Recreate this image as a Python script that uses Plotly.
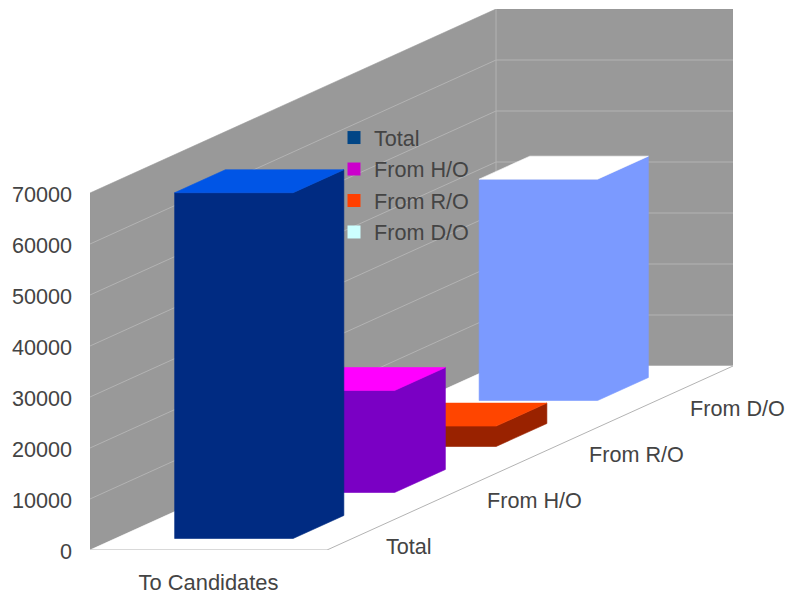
import plotly.graph_objects as go

categories = ["To Candidates"]
series_names = ["Total", "From H/O", "From R/O", "From D/O"]
series_values = [67800, 20000, 4000, 43400]
tick_values = [0, 10000, 20000, 30000, 40000, 50000, 60000, 70000]

legend_colors = ["#004586", "#cc00cc", "#ff3f00", "#ccffff"]
front_colors = ["#002b82", "#7a00c4", "#992200", "#7b9aff"]
top_colors = ["#0055e6", "#ff00ff", "#ff4500", "#ffffff"]

WALL = "#999999"
GRID = "#b3b3b3"
TEXT = "#444444"
FONT = dict(family="Liberation Sans", size=21.6, color=TEXT)

# Oblique projection: one series step in depth moves right and up
PX_PER_CAT = 237.0
PX_PER_UNIT = 357.0 / 70000
DX = 101.5 / PX_PER_CAT
DY = 46.0 / PX_PER_UNIT
N = len(series_names)
YMAX = tick_values[-1]


def proj(x, d, v):
    return x + d * DX, v + d * DY


def poly(points, color):
    xy = [proj(*p) for p in points]
    xs = [q[0] for q in xy] + [xy[0][0]]
    ys = [q[1] for q in xy] + [xy[0][1]]
    return go.Scatter(x=xs, y=ys, mode="lines", fill="toself", fillcolor=color,
                      line=dict(width=0.6, color=color), hoverinfo="skip", showlegend=False)


def line(points, color=GRID, width=1):
    xy = [proj(*p) for p in points]
    return go.Scatter(x=[q[0] for q in xy], y=[q[1] for q in xy], mode="lines",
                      line=dict(color=color, width=width), hoverinfo="skip", showlegend=False)


fig = go.Figure()

# Walls and floor
fig.add_trace(poly([(0, 0, 0), (0, N, 0), (0, N, YMAX), (0, 0, YMAX)], WALL))
fig.add_trace(poly([(0, N, 0), (1, N, 0), (1, N, YMAX), (0, N, YMAX)], WALL))
fig.add_trace(poly([(0, 0, 0), (1, 0, 0), (1, N, 0), (0, N, 0)], "#ffffff"))

# Gridlines
for t in tick_values[1:-1]:
    fig.add_trace(line([(0, 0, t), (0, N, t), (1, N, t)]))
fig.add_trace(line([(0, N, 0), (0, N, YMAX)]))
fig.add_trace(line([(0, 0, 0), (1, 0, 0), (1, N, 0)]))

# Bars, back to front: front and side share one outline, so no seam shows
for i in reversed(range(N)):
    v = series_values[i]
    x0, x1 = 0.25, 0.75
    d0, d1 = i + 0.25, i + 0.75
    fig.add_trace(poly([(x0, d0, 0), (x1, d0, 0), (x1, d1, 0), (x1, d1, v), (x1, d0, v), (x0, d0, v)],
                       front_colors[i]))
    fig.add_trace(poly([(x0, d0, v), (x1, d0, v), (x1, d1, v), (x0, d1, v)], top_colors[i]))

# Legend entries
for i, name in enumerate(series_names):
    fig.add_trace(go.Scatter(x=[None], y=[None], mode="markers", name=name, legendgroup=name,
                             marker=dict(symbol="square", size=13, color=legend_colors[i])))

# Series labels along the floor's right edge
for i, name in enumerate(series_names):
    ax, ay = proj(1, i + 0.5, 0)
    fig.add_annotation(x=ax, y=ay, text=name, showarrow=False, xanchor="left", yanchor="middle",
                       xshift=6, yshift=-19, font=FONT)

xmax = 643.0 / PX_PER_CAT
ymax = 541.0 / PX_PER_UNIT
fig.update_layout(
    width=789, height=594,
    margin=dict(l=90, r=56, t=9, b=44, autoexpand=False),
    paper_bgcolor="#ffffff", plot_bgcolor="#ffffff",
    font=FONT,
    showlegend=True,
    legend=dict(x=(334 - 90) / 643.0, y=1 - (117 - 9) / 541.0, xanchor="left", yanchor="top",
                bgcolor="rgba(0,0,0,0)", tracegroupgap=0.4, font=FONT, itemclick=False,
                itemdoubleclick=False, itemwidth=30),
    xaxis=dict(range=[0, xmax], tickmode="array", tickvals=[0.5], ticktext=categories,
               showgrid=False, zeroline=False, showline=False, ticks="", ticklabelstandoff=17,
               tickfont=dict(size=21.9), fixedrange=True, automargin=False),
    yaxis=dict(range=[0, ymax], tickmode="array", tickvals=tick_values,
               ticktext=[str(t) for t in tick_values],
               showgrid=False, zeroline=False, showline=False, ticks="", ticklabelstandoff=17,
               ticklabelshift=1, fixedrange=True, automargin=False),
)

fig.write_html("out.html", config=dict(displayModeBar=False),
               post_script="document.body.style.margin='0';")
